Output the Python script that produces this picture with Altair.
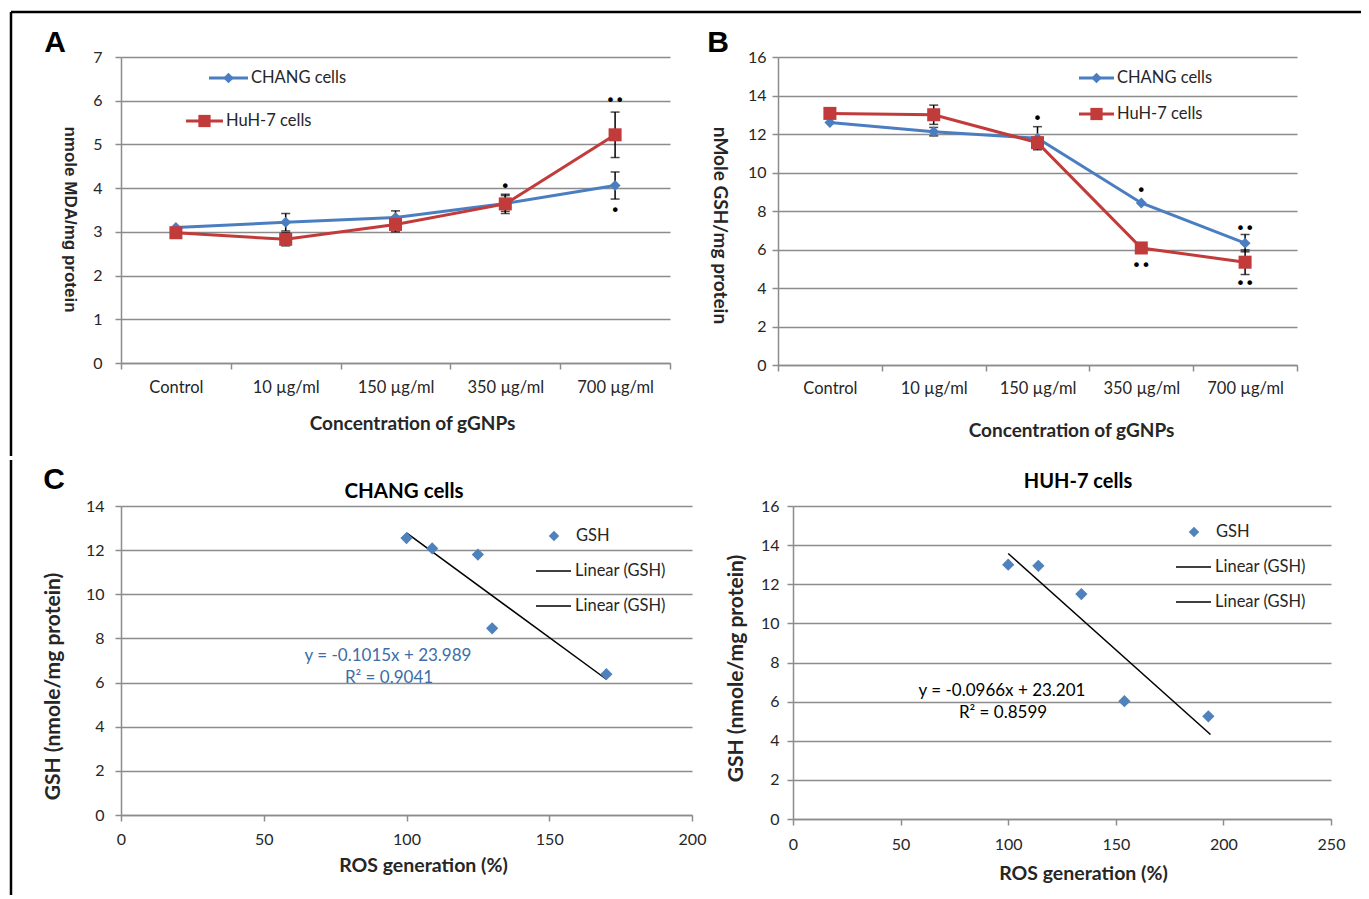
import altair as alt
import pandas as pd

# ---------------- data ----------------
categories = ["Control", "10  µg/ml", "150 µg/ml", "350 µg/ml", "700 µg/ml"]
series = ["CHANG cells", "HuH-7 cells"]

# Panel A: MDA (nmole/mg protein)
mda_chang = [3.10, 3.22, 3.33, 3.65, 4.06]
mda_chang_err = [0.0, 0.20, 0.15, 0.18, 0.31]
mda_huh = [2.98, 2.83, 3.17, 3.64, 5.22]
mda_huh_err = [0.0, 0.15, 0.17, 0.22, 0.52]
mda_sig_cat = ["350 µg/ml", "700 µg/ml", "700 µg/ml"]
mda_sig_y = [4.02, 6.0, 3.47]
mda_sig_txt = ["•", "••", "•"]

# Panel B: GSH (nMole/mg protein)
gsh_chang = [12.60, 12.12, 11.78, 8.42, 6.33]
gsh_chang_err = [0.0, 0.22, 0.60, 0.0, 0.45]
gsh_huh = [13.07, 13.00, 11.55, 6.08, 5.34]
gsh_huh_err = [0.0, 0.50, 0.0, 0.0, 0.64]
gsh_sig_cat = ["150 µg/ml", "350 µg/ml", "700 µg/ml", "350 µg/ml", "700 µg/ml"]
gsh_sig_y = [12.8, 9.05, 7.07, 5.16, 4.23]
gsh_sig_txt = ["•", "•", "••", "••", "••"]

# Panel C: GSH vs ROS generation
chang_ros = [100, 109, 125, 130, 170]
chang_gsh = [12.55, 12.08, 11.80, 8.46, 6.38]
chang_fit_x = [100, 170]
chang_fit_y = [12.78, 6.15]
chang_eq = ["y = -0.1015x + 23.989", "R² = 0.9041"]

huh_ros = [100, 114, 134, 154, 193]
huh_gsh = [13.00, 12.94, 11.50, 6.02, 5.25]
huh_fit_x = [100, 194]
huh_fit_y = [13.57, 4.32]
huh_eq = ["y = -0.0966x + 23.201", "R² = 0.8599"]

# ---------------- style ----------------
FONT = "Lato"
BLUE = "#4A7EC1"
RED = "#C23B3B"
DIAM = "#4F81BD"
GRID = "#8C8C8C"
TXT = "#262626"
EQBLUE = "#3C6DA8"

one = pd.DataFrame({"k": [0]})


def txt(x, y, s, size=16.5, color=TXT, weight="normal", align="left", font=FONT, angle=0):
    return alt.Chart(one).mark_text(
        text=s, fontSize=size, color=color, fontWeight=weight, align=align,
        baseline="middle", font=font, angle=angle
    ).encode(x=alt.value(x), y=alt.value(y))


def hline(x1, x2, y, color, width):
    return alt.Chart(one).mark_rule(color=color, strokeWidth=width).encode(
        x=alt.value(x1), x2=alt.value(x2), y=alt.value(y))


def vline(x, y1, y2, color, width):
    return alt.Chart(one).mark_rule(color=color, strokeWidth=width).encode(
        x=alt.value(x), y=alt.value(y1), y2=alt.value(y2))


def sym(x, y, shape, color, size):
    return alt.Chart(one).mark_point(shape=shape, filled=True, color=color, size=size,
                                     opacity=1).encode(x=alt.value(x), y=alt.value(y))


def line_panel(vc, ec, vh, eh, sig_cat, sig_y, sig_txt, ymax, ystep, w, h,
               ytitle, ytitle_font, ytitle_size, yx, yy, ypad, xtx, xty, xpad,
               leg):
    df = pd.DataFrame({
        "cat": categories * 2,
        "series": [series[0]] * 5 + [series[1]] * 5,
        "val": vc + vh,
        "err": ec + eh,
    })
    df["lo"] = df["val"] - df["err"]
    df["hi"] = df["val"] + df["err"]
    edf = df[df["err"] > 0]
    sdf = pd.DataFrame({"cat": sig_cat, "y": sig_y, "t": sig_txt})

    xs = alt.Scale(type="band", domain=categories, paddingInner=0, paddingOuter=0)
    ys = alt.Scale(domain=[0, ymax], nice=False)
    xax = alt.Axis(title="Concentration of gGNPs", tickBand="extent", grid=False, labelAngle=0,
                   labelPadding=xpad, titleX=xtx, titleY=xty, titleBaseline="middle",
                   titleFontSize=19, labelFontSize=16.5)
    yax = alt.Axis(title=ytitle, values=list(range(0, ymax + 1, ystep)), grid=True,
                   labelPadding=ypad, titleAngle=90, titleX=yx, titleY=yy,
                   titleBaseline="middle", titleFont=ytitle_font, titleFontSize=ytitle_size)
    X = alt.X("cat:N", scale=xs, axis=xax, sort=categories)

    base = alt.Chart(df)
    lines = []
    for s, col in zip(series, [BLUE, RED]):
        lines.append(base.transform_filter(alt.datum.series == s).mark_line(
            color=col, strokeWidth=3).encode(x=X, y=alt.Y("val:Q", scale=ys, axis=yax)))
    errs = alt.Chart(edf).mark_rule(color="black", strokeWidth=1.5).encode(
        x=X, y=alt.Y("lo:Q", scale=ys, axis=yax), y2="hi:Q")
    cap_lo = alt.Chart(edf).mark_tick(color="black", size=9, thickness=1.5).encode(
        x=X, y=alt.Y("lo:Q", scale=ys, axis=yax))
    cap_hi = alt.Chart(edf).mark_tick(color="black", size=9, thickness=1.5).encode(
        x=X, y=alt.Y("hi:Q", scale=ys, axis=yax))
    pts = [
        base.transform_filter(alt.datum.series == series[0]).mark_point(
            shape="diamond", filled=True, color=BLUE, size=120, opacity=1).encode(
            x=X, y=alt.Y("val:Q", scale=ys, axis=yax)),
        base.transform_filter(alt.datum.series == series[1]).mark_point(
            shape="square", filled=True, color=RED, size=170, opacity=1).encode(
            x=X, y=alt.Y("val:Q", scale=ys, axis=yax)),
    ]
    sig = alt.Chart(sdf).mark_text(fontSize=16, color="black", font="DejaVu Sans").encode(
        x=X, y=alt.Y("y:Q", scale=ys, axis=yax), text="t:N")
    layers = [errs, cap_lo, cap_hi] + lines + pts + [sig] + leg
    return alt.layer(*layers).properties(width=w, height=h)


def legend_line(x1, x2, y, col, shape, size, label):
    return [hline(x1, x2, y, col, 3), sym((x1 + x2) / 2, y, shape, col, size),
            txt(x2 + 3, y, label)]


# Panel A (plot origin at canvas 120,56)
legA = (legend_line(88, 127, 21, BLUE, "diamond", 110, "CHANG cells")
        + legend_line(65, 102, 64, RED, "square", 150, "HuH-7 cells")
        + [txt(-66, -14, "A", size=30, color="black", weight="bold", align="center",
               font="Liberation Sans"),
           hline(-110, 1240, -45, "black", 2.5),
           vline(-110, -45, 399, "black", 2.5)])
A = line_panel(mda_chang, mda_chang_err, mda_huh, mda_huh_err,
               mda_sig_cat, mda_sig_y, mda_sig_txt, 7, 1, 549, 306,
               "nmole MDA/mg protein", "Liberation Sans", 17, -52, 162, 13, 291, 60, 10, legA)

# Panel B (plot origin at canvas 777,56)
legB = (legend_line(301, 336, 21, BLUE, "diamond", 110, "CHANG cells")
        + legend_line(301, 336, 57, RED, "square", 150, "HuH-7 cells")
        + [txt(-60, -14, "B", size=30, color="black", weight="bold", align="center",
               font="Liberation Sans")])
B = line_panel(gsh_chang, gsh_chang_err, gsh_huh, gsh_huh_err,
               gsh_sig_cat, gsh_sig_y, gsh_sig_txt, 16, 2, 519, 308,
               "nMole GSH/mg protein", FONT, 19, -59, 168, 6, 293, 65, 9, legB)


def scatter_panel(xv, yv, fx, fy, eq, eqcol, eqx, eqy, xmax, ymax, w, h, title, tsize, tx, ty,
                  yx, yy, ypad, xtx, xty, xpad, legx, legy, extra):
    df = pd.DataFrame({"ros": xv, "gsh": yv})
    fdf = pd.DataFrame({"ros": fx, "gsh": fy})
    xs = alt.Scale(domain=[0, xmax], nice=False)
    ys = alt.Scale(domain=[0, ymax], nice=False)
    xax = alt.Axis(title="ROS generation (%)", values=list(range(0, xmax + 1, 50)), grid=False,
                   labelFlush=False, labelPadding=xpad, titleX=xtx, titleY=xty,
                   titleBaseline="middle", titleFontSize=19.5)
    yax = alt.Axis(title="GSH (nmole/mg protein)", values=list(range(0, ymax + 1, 2)),
                   grid=True, labelPadding=ypad, titleAngle=270, titleX=yx, titleY=yy,
                   titleBaseline="middle", titleFontSize=21)
    X = alt.X("ros:Q", scale=xs, axis=xax)
    Y = alt.Y("gsh:Q", scale=ys, axis=yax)
    fit = alt.Chart(fdf).mark_line(color="black", strokeWidth=1.5).encode(x=X, y=Y)
    pts = alt.Chart(df).mark_point(shape="diamond", filled=True, color=DIAM, size=150,
                                   opacity=1).encode(x=X, y=Y)
    leg = [sym(legx, legy, "diamond", DIAM, 110), txt(legx + 22, legy, "GSH"),
           hline(legx - 18, legx + 17, legy + 35, "black", 1.5),
           txt(legx + 21, legy + 35, "Linear (GSH)"),
           hline(legx - 18, legx + 17, legy + 70, "black", 1.5),
           txt(legx + 21, legy + 70, "Linear (GSH)")]
    eqs = [txt(eqx, eqy, eq[0], size=17, color=eqcol, align="center"),
           txt(eqx + 1, eqy + 22, eq[1], size=17, color=eqcol, align="center")]
    ttl = [txt(tx, ty, title, size=tsize, color="black", weight="bold", align="center")]
    return alt.layer(fit, pts, *leg, *eqs, *ttl, *extra).properties(width=w, height=h)


C1 = scatter_panel(chang_ros, chang_gsh, chang_fit_x, chang_fit_y, chang_eq, EQBLUE, 267, 150,
                   200, 14, 571, 309, "CHANG  cells", 20.5, 283, -14,
                   -68, 180, 11, 302, 50, 10, 433, 30,
                   [txt(-67, -26, "C", size=30, color="black", weight="bold", align="center",
                        font="Liberation Sans"),
                    vline(-110, -46, 389, "black", 2.5)])
C2 = scatter_panel(huh_ros, huh_gsh, huh_fit_x, huh_fit_y, huh_eq, "black", 209, 185,
                   250, 16, 538, 313, "HUH-7 cells", 20, 285, -24,
                   -57, 162, 8, 290, 54, 11, 401, 26, [])

row1 = alt.hconcat(A, B, spacing=108, bounds="flush")
row2 = alt.hconcat(C1, C2, spacing=101, bounds="flush")

chart = alt.vconcat(row1, row2, spacing=0).properties(
    padding={"left": 9, "top": 10, "right": 0, "bottom": 0},
    background="white",
).configure_view(stroke=None).configure_axis(
    labelFont=FONT, labelFontSize=16, labelColor=TXT,
    titleFont=FONT, titleFontWeight="bold", titleColor=TXT,
    gridColor=GRID, gridWidth=1.5, domainColor=GRID, domainWidth=1.5,
    tickColor=GRID, tickWidth=1.5, tickSize=6,
)

chart.save("out.html", embed_options={"renderer": "svg", "actions": False})
